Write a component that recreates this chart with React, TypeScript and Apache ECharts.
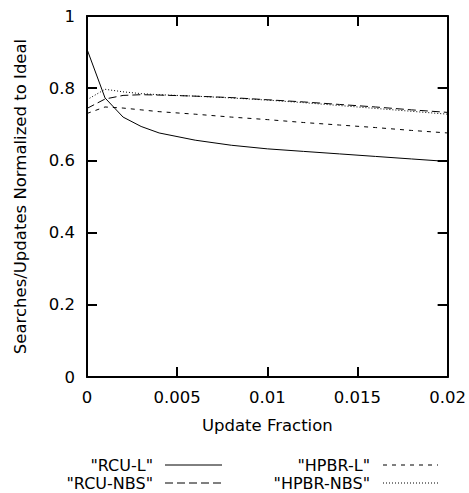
import React, { useEffect, useRef } from "react";
import * as echarts from "echarts";

const xValues = [0, 0.001, 0.002, 0.003, 0.004, 0.006, 0.008, 0.01, 0.012, 0.014, 0.016, 0.018, 0.02];
const rcuL = [0.908, 0.773, 0.72, 0.694, 0.676, 0.656, 0.642, 0.632, 0.625, 0.618, 0.611, 0.604, 0.597];
const rcuNBS = [0.744, 0.77, 0.78, 0.782, 0.781, 0.778, 0.774, 0.768, 0.762, 0.755, 0.748, 0.74, 0.733];
const hpbrL = [0.73, 0.748, 0.745, 0.74, 0.735, 0.728, 0.72, 0.713, 0.705, 0.698, 0.691, 0.683, 0.676];
const hpbrNBS = [0.768, 0.797, 0.79, 0.785, 0.782, 0.778, 0.773, 0.767, 0.76, 0.752, 0.744, 0.736, 0.728];

const seriesNames = ['"RCU-L"', '"RCU-NBS"', '"HPBR-L"', '"HPBR-NBS"'];

const FONT = "DejaVu Sans, sans-serif";
const FS = 16.5;
const LFS = 16;

export default function App() {
  const ref = useRef<HTMLDivElement>(null);
  useEffect(() => {
    if (!ref.current) return;
    const chart = echarts.init(ref.current, undefined, { renderer: "svg" });
    const dashes: any[] = ["solid", [8, 4], [4, 5], [1, 2]];
    const allData = [rcuL, rcuNBS, hpbrL, hpbrNBS];
    const pair = (arr: number[]) => xValues.map((x, i) => [x, arr[i]]);
    const axisBase = {
      type: "value" as const,
      axisLine: { show: true, onZero: false, lineStyle: { color: "#000", width: 2 } },
      axisTick: { show: true, inside: true, length: 10, lineStyle: { color: "#000", width: 2 } },
      splitLine: { show: false },
    };
    const legendPos = [
      { textRight: 153, lineX1: 165, lineX2: 222, y: 465 },
      { textRight: 153, lineX1: 165, lineX2: 222, y: 483 },
      { textRight: 370, lineX1: 383, lineX2: 438, y: 465 },
      { textRight: 370, lineX1: 383, lineX2: 438, y: 483 },
    ];
    const graphic: any[] = [];
    seriesNames.forEach((name, i) => {
      const p = legendPos[i];
      graphic.push({
        type: "text",
        x: p.textRight,
        y: p.y,
        style: { text: name, fill: "#000", font: `${LFS}px ${FONT}`, align: "right", verticalAlign: "middle" },
      });
      graphic.push({
        type: "line",
        shape: { x1: p.lineX1, y1: p.y, x2: p.lineX2, y2: p.y },
        style: { stroke: "#000", lineWidth: 1, lineDash: dashes[i] === "solid" ? null : dashes[i] },
      });
    });
    chart.setOption({
      animation: false,
      backgroundColor: "#fff",
      grid: { left: 87, right: 21, top: 16, bottom: 116 },
      xAxis: [
        {
          ...axisBase,
          min: 0,
          max: 0.02,
          interval: 0.005,
          name: "Update Fraction",
          nameLocation: "middle",
          nameGap: 40,
          nameTextStyle: { color: "#000", fontSize: FS, fontFamily: FONT },
          axisLabel: { color: "#000", fontSize: FS, fontFamily: FONT, margin: 12, formatter: (v: number) => String(v) },
        },
        {
          ...axisBase,
          position: "top",
          min: 0,
          max: 0.02,
          interval: 0.005,
          axisLabel: { show: false },
        },
      ],
      yAxis: [
        {
          ...axisBase,
          min: 0,
          max: 1,
          interval: 0.2,
          name: "Searches/Updates Normalized to Ideal",
          nameLocation: "middle",
          nameGap: 58,
          nameTextStyle: { color: "#000", fontSize: FS, fontFamily: FONT },
          axisLabel: { color: "#000", fontSize: FS, fontFamily: FONT, margin: 12, formatter: (v: number) => String(v) },
        },
        {
          ...axisBase,
          position: "right",
          min: 0,
          max: 1,
          interval: 0.2,
          axisLabel: { show: false },
        },
      ],
      series: allData.map((d, i) => ({
        name: seriesNames[i],
        type: "line",
        data: pair(d),
        showSymbol: false,
        symbol: "none",
        lineStyle: { color: "#000", width: 1, type: dashes[i] },
      })),
      graphic,
    });
    return () => chart.dispose();
  }, []);
  return <div ref={ref} style={{ position: "fixed", left: 0, top: 0, width: 469, height: 493 }} />;
}
